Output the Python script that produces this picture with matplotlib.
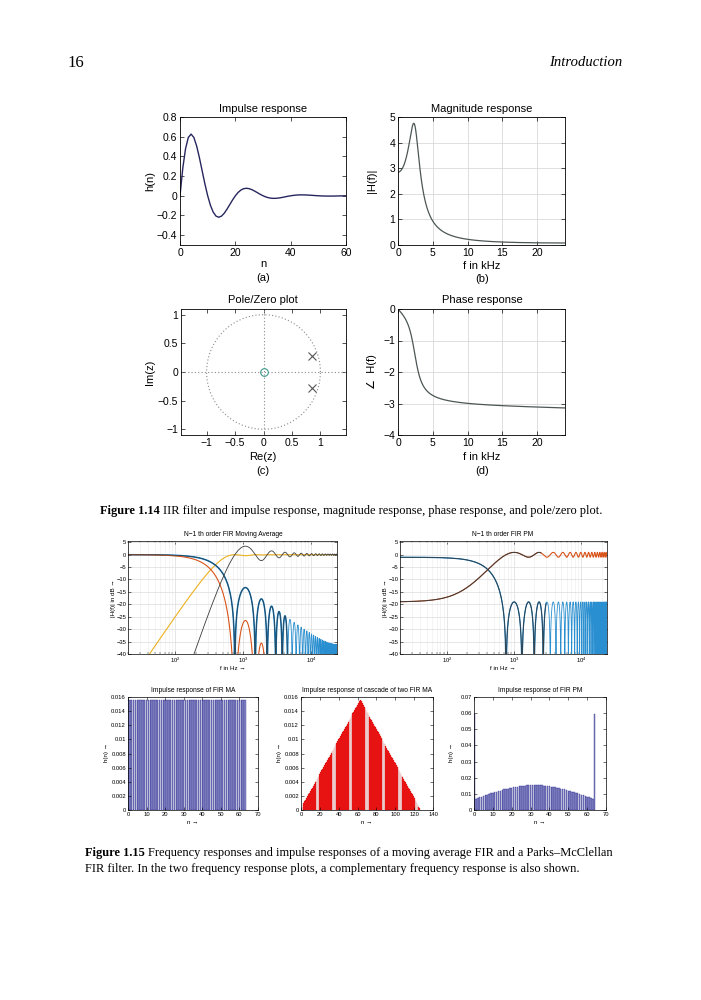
import numpy as np
import matplotlib
matplotlib.use("Agg")
import matplotlib.pyplot as plt

plt.rcParams['font.family'] = ['Liberation Sans', 'DejaVu Sans']
plt.rcParams['mathtext.fontset'] = 'custom'
plt.rcParams['mathtext.rm'] = 'Liberation Sans'
plt.rcParams['axes.unicode_minus'] = True

# ---------------- data ----------------
# IIR filter (Fig 1.14), fs = 48 kHz; pole pair
fs_khz = 48.0
iir_num = [0.0, 0.279]               # b0, b1
iir_den = [1.0, -1.712, 0.81]        # a0, a1, a2
iir_zero_re = [0.0]
iir_zero_im = [0.0]
iir_pole_re = [0.856, 0.856]
iir_pole_im = [0.278, -0.278]
imp_len = 61

# FIR filters (Fig 1.15), fs = 48 kHz
fs_hz = 48000.0
ma_len = 64
ma_value = 1.0 / 64
pm_len = 65
pm_sidelobe_db = 18.0

# ---------------- helpers ----------------
W, Hh = 701, 1000
fig = plt.figure(figsize=(7.01, 10.0), dpi=100)
fig.patch.set_facecolor('white')


def axes_px(l, t, r, b):
    return fig.add_axes([l / W, 1 - b / Hh, (r - l) / W, (b - t) / Hh])


def ftext(x, y, s, **kw):
    kw.setdefault('ha', 'center')
    kw.setdefault('va', 'center')
    return fig.text(x / W, 1 - y / Hh, s, **kw)


def mstyle(ax, fs, lw=0.6, tl=3, pad=2):
    ax.tick_params(direction='in', top=True, right=True, labelsize=fs,
                   length=tl, width=lw * 0.8, pad=pad, which='major')
    ax.tick_params(direction='in', top=True, right=True, length=tl * 0.55,
                   width=lw * 0.6, which='minor')
    for s in ax.spines.values():
        s.set_linewidth(lw)


GRID = dict(color='#d9d9d9', lw=0.6, ls='-')

# ---------------- IIR computations ----------------
imp = np.zeros(imp_len)
x = np.zeros(imp_len); x[0] = 1.0
for n in range(imp_len):
    acc = 0.0
    for k, bk in enumerate(iir_num):
        if n - k >= 0:
            acc += bk * x[n - k]
    for k, ak in enumerate(iir_den[1:], start=1):
        if n - k >= 0:
            acc -= ak * imp[n - k]
    imp[n] = acc

f_k = np.linspace(0, 24, 1024)
om = 2 * np.pi * f_k / fs_khz
num = sum(b * np.exp(-1j * om * k) for k, b in enumerate(iir_num))
den = sum(a * np.exp(-1j * om * k) for k, a in enumerate(iir_den))
Hiir = num / den

# ---- (a) impulse response
ax = axes_px(180, 117, 346, 245)
ax.plot(np.arange(imp_len), imp, color='#26265e', lw=1.0)
ax.set_xlim(0, 60); ax.set_ylim(-0.5, 0.8)
ax.set_xticks([0, 20, 40, 60]); ax.set_yticks([-0.4, -0.2, 0, 0.2, 0.4, 0.6, 0.8])
ax.set_yticklabels(['\u22120.4', '\u22120.2', '0', '0.2', '0.4', '0.6', '0.8'])
mstyle(ax, 7.5)
ftext(263, 109, 'Impulse response', fontsize=8)
ftext(263, 264, 'n', fontsize=8); ftext(263, 278, '(a)', fontsize=8)
ftext(150, 181, 'h(n)', fontsize=8, rotation=90)

# ---- (b) magnitude
ax = axes_px(398, 117, 565, 245)
ax.plot(f_k, np.abs(Hiir), color='#4d5656', lw=0.9)
ax.set_xlim(0, 24); ax.set_ylim(0, 5)
ax.set_xticks([0, 5, 10, 15, 20]); ax.set_yticks([0, 1, 2, 3, 4, 5])
ax.grid(True, **GRID); ax.set_axisbelow(True)
mstyle(ax, 7.5)
ftext(482, 109, 'Magnitude response', fontsize=8)
ftext(482, 266, 'f in kHz', fontsize=8); ftext(482, 279, '(b)', fontsize=8)
ftext(372, 181, '|H(f)|', fontsize=8, rotation=90)

# ---- (c) pole / zero
ax = axes_px(181, 309, 346, 435)
t = np.linspace(0, 2 * np.pi, 400)
ax.plot(np.cos(t), np.sin(t), ls=(0, (1, 2)), color='#8a8a8a', lw=0.8)
ax.axhline(0, ls=(0, (1, 2)), color='#8a8a8a', lw=0.8)
ax.axvline(0, ls=(0, (1, 2)), color='#8a8a8a', lw=0.8)
ax.plot(iir_zero_re, iir_zero_im, 'o', mfc='none', mec='#3f9a8c', ms=5.5, mew=0.8)
ax.plot(iir_pole_re, iir_pole_im, 'x', color='#555555', ms=5.5, mew=0.8)
ax.set_xlim(-1.45, 1.45); ax.set_ylim(-1.1, 1.1)
ax.set_xticks([-1, -0.5, 0, 0.5, 1]); ax.set_yticks([-1, -0.5, 0, 0.5, 1])
ax.set_xticklabels(['\u22121', '\u22120.5', '0', '0.5', '1'])
ax.set_yticklabels(['\u22121', '\u22120.5', '0', '0.5', '1'])
mstyle(ax, 7.5)
ftext(263, 300, 'Pole/Zero plot', fontsize=8)
ftext(263, 457, 'Re(z)', fontsize=8); ftext(263, 471, '(c)', fontsize=8)
ftext(150, 372, 'Im(z)', fontsize=8, rotation=90)

# ---- (d) phase
ax = axes_px(398, 309, 565, 435)
ax.plot(f_k, np.unwrap(np.angle(Hiir)), color='#4d5656', lw=0.9)
ax.set_xlim(0, 24); ax.set_ylim(-4, 0)
ax.set_xticks([0, 5, 10, 15, 20]); ax.set_yticks([-4, -3, -2, -1, 0])
ax.set_yticklabels(['\u22124', '\u22123', '\u22122', '\u22121', '0'])
ax.grid(True, **GRID); ax.set_axisbelow(True)
mstyle(ax, 7.5)
ftext(482, 300, 'Phase response', fontsize=8)
ftext(482, 457, 'f in kHz', fontsize=8); ftext(482, 471, '(d)', fontsize=8)
ftext(372, 372, '\u2220  H(f)', fontsize=8, rotation=90)

# ---------------- FIR computations ----------------
ma_h = np.full(ma_len, ma_value)
casc_h = np.convolve(ma_h, ma_h)


def chebwin(M, at):
    order = M - 1
    beta = np.cosh(np.arccosh(10 ** (at / 20.0)) / order)
    k = np.arange(M)
    xx = beta * np.cos(np.pi * k / M)
    p = np.zeros(M)
    m1 = xx > 1; m2 = xx < -1; m3 = np.abs(xx) <= 1
    p[m1] = np.cosh(order * np.arccosh(xx[m1]))
    p[m2] = (2 * (M % 2) - 1) * np.cosh(order * np.arccosh(-xx[m2]))
    p[m3] = np.cos(order * np.arccos(xx[m3]))
    w = np.real(np.fft.fft(p))
    n = (M + 1) // 2
    w = w[:n]
    w = np.concatenate((w[n - 1:0:-1], w))
    return w / w.max()


R = 10 ** (pm_sidelobe_db / 20)
pm_w = chebwin(pm_len, pm_sidelobe_db)
pm_h = pm_w * (R / (R + 1)) / pm_w.sum()

fgrid = np.arange(1, 2048) * (fs_hz / 2) / 2048


def zero_phase(h):
    w = 2 * np.pi * fgrid / fs_hz
    n = np.arange(len(h)) - (len(h) - 1) / 2
    return (np.exp(-1j * np.outer(w, n)) @ h).real


def db(v):
    return 20 * np.log10(np.abs(v) + 1e-9)


A_ma = zero_phase(ma_h)
A_pm = zero_phase(pm_h)

C_BLUE, C_ORANGE, C_YELLOW, C_GRAY = '#0072BD', '#D95319', '#EDB120', '#3c3c3c'
C_LBLUE = '#2a8fd0'


def freq_axes(ax):
    ax.set_xscale('log')
    ax.set_xlim(20, 24000); ax.set_ylim(-40, 5.5)
    ax.set_yticks(np.arange(-40, 6, 5))
    ax.set_yticklabels([('\u2212%d' % -v) if v < 0 else '%d' % v for v in range(-40, 6, 5)])
    ax.set_xticks([100, 1000, 10000])
    ax.set_xticklabels(['$10^2$', '$10^3$', '$10^4$'])
    ax.grid(True, which='major', color='#dcdcdc', lw=0.5)
    ax.grid(True, which='minor', axis='x', color='#ececec', lw=0.4)
    ax.set_axisbelow(True)
    mstyle(ax, 4.2, lw=0.5, tl=2, pad=1.2)


# ---- MA frequency response
ax = axes_px(128, 541, 337, 654)
lo = fgrid < 4500
ax.plot(fgrid, db(1 - A_ma ** 2), color=C_YELLOW, lw=0.8)
ax.plot(fgrid[~lo], db(A_ma)[~lo], color=C_LBLUE, lw=0.6)
ax.plot(fgrid[lo], db(A_ma)[lo], color=C_BLUE, lw=1.1)
ax.plot(fgrid, db(A_ma ** 2), color=C_ORANGE, lw=0.8)
ax.plot(fgrid[lo], db(A_ma)[lo], color=C_GRAY, lw=0.45)
ax.plot(fgrid, db((1 - A_ma) ** 2), color=C_GRAY, lw=0.6)
freq_axes(ax)
ftext(233, 535, 'N\u22121 th order FIR Moving Average', fontsize=4.8)
ftext(233, 669, 'f in Hz \u2192', fontsize=4.5)
ftext(113, 598, '|H(f)| in dB \u2192', fontsize=4.5, rotation=90)

# ---- PM frequency response
ax = axes_px(400, 541, 607, 654)
lo = fgrid < 3000
ax.plot(fgrid[lo], db(A_pm)[lo], color=C_BLUE, lw=0.9)
ax.plot(fgrid[~lo], db(A_pm)[~lo], color=C_LBLUE, lw=0.6)
ax.plot(fgrid, db(1 - A_pm), color=C_ORANGE, lw=0.8)
ax.plot(fgrid[lo], db(A_pm)[lo], color=C_GRAY, lw=0.55)
ax.plot(fgrid[fgrid < 2500], db(1 - A_pm)[fgrid < 2500], color=C_GRAY, lw=0.7)
freq_axes(ax)
ftext(503, 535, 'N\u22121 th order FIR PM', fontsize=4.8)
ftext(503, 669, 'f in Hz \u2192', fontsize=4.5)
ftext(385, 598, '|H(f)| in dB \u2192', fontsize=4.5, rotation=90)


# ---- bar plots
def bar_axes(ax, xmax, xstep, ymax, ystep):
    ax.set_xlim(0, xmax); ax.set_ylim(0, ymax)
    ax.set_xticks(np.arange(0, xmax + 1, xstep))
    yt = np.arange(0, ymax + ystep / 2, ystep)
    ax.set_yticks(yt)
    ax.set_yticklabels(['%g' % round(v, 4) for v in yt])
    mstyle(ax, 4.2, lw=0.5, tl=2, pad=1.5)


BAR_FACE = '#8888c6'
BAR_EDGE = '#26268a'

ax = axes_px(128, 697, 258, 810)
ax.bar(np.arange(ma_len), ma_h, width=0.8, color=BAR_FACE, edgecolor=BAR_EDGE, lw=0.25)
bar_axes(ax, 70, 10, 0.016, 0.002)
ftext(193, 690, 'Impulse response of FIR MA', fontsize=4.8)
ftext(193, 822, 'n \u2192', fontsize=4.5)
ftext(107, 753, 'h(n) \u2192', fontsize=4.5, rotation=90)

ax = axes_px(301, 697, 433, 810)
ax.bar(np.arange(len(casc_h)), casc_h, width=0.8, color='#ff1c1c', edgecolor='#b30000', lw=0.15)
bar_axes(ax, 140, 20, 0.016, 0.002)
ftext(367, 690, 'Impulse response of cascade of two FIR MA', fontsize=4.8)
ftext(367, 822, 'n \u2192', fontsize=4.5)
ftext(280, 753, 'h(n) \u2192', fontsize=4.5, rotation=90)

ax = axes_px(474, 697, 606, 810)
ax.bar(np.arange(pm_len), pm_h, width=0.8, color=BAR_FACE, edgecolor=BAR_EDGE, lw=0.25)
bar_axes(ax, 70, 10, 0.07, 0.01)
ftext(540, 690, 'Impulse response of FIR PM', fontsize=4.8)
ftext(540, 822, 'n \u2192', fontsize=4.5)
ftext(452, 753, 'h(n) \u2192', fontsize=4.5, rotation=90)

# ---------------- page text ----------------
SERIF = ['Liberation Serif', 'DejaVu Serif']
ftext(67, 63, '16', fontsize=12, family=SERIF, ha='left')
ftext(622, 63, 'Introduction', fontsize=10.5, family=SERIF, ha='right', style='italic')

renderer = fig.canvas.get_renderer()
CAP_FS = 8.95


def caption(x, y, bold, rest, fs=CAP_FS):
    t1 = ftext(x, y, bold, fontsize=fs, family=SERIF, weight='bold', ha='left', va='baseline')
    bb = t1.get_window_extent(renderer)
    ftext(x + bb.width + 3.3, y, rest, fontsize=fs, family=SERIF, ha='left', va='baseline')


caption(100, 514, 'Figure 1.14',
        'IIR filter and impulse response, magnitude response, phase response, and pole/zero plot.')
caption(85, 856, 'Figure 1.15',
        'Frequency responses and impulse responses of a moving average FIR and a Parks\u2013McClellan')
ftext(85, 872, 'FIR filter. In the two frequency response plots, a complementary frequency response is also shown.',
      fontsize=CAP_FS, family=SERIF, ha='left', va='baseline')

fig.savefig('out.png', dpi=100, facecolor='white')
